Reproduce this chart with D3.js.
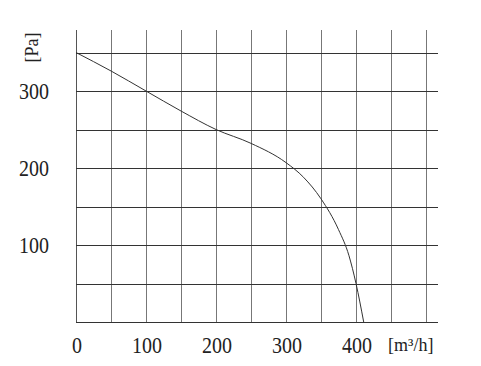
<!DOCTYPE html>
<html>
<head>
<meta charset="utf-8">
<script src="https://cdn.jsdelivr.net/npm/d3@7"></script>
<style>
  body { margin: 0; background: #fff; }
  text { font-family: "Liberation Serif", "DejaVu Serif", serif; fill: #222; }
</style>
</head>
<body>
<div id="chart"></div>
<script>
var svgWidth = 481;
var svgHeight = 366;

// data
var flow = [0, 50, 100, 150, 200, 250, 300, 325, 350, 375, 390, 400, 411];
var pressure = [350, 326, 300, 274, 250, 232, 207, 188, 160, 120, 86, 50, 0];
var xTicks = [0, 100, 200, 300, 400];
var yTicks = [100, 200, 300];
var xGrid = d3.range(0, 501, 50);
var yGrid = d3.range(0, 351, 50);

var svg = d3.select("#chart")
  .append("svg")
  .attr("width", svgWidth)
  .attr("height", svgHeight);

var x = d3.scaleLinear().domain([0, 500]).range([76, 426]);
var y = d3.scaleLinear().domain([0, 350]).range([322, 52.5]);

// vertical grid
svg.append("g").selectAll("line")
  .data(xGrid)
  .enter()
  .append("line")
  .attr("x1", d => x(d) + 0.5)
  .attr("x2", d => x(d) + 0.5)
  .attr("y1", 30)
  .attr("y2", y(0))
  .attr("stroke", d => d == 0 ? "#555" : "#777")
  .attr("stroke-width", 1);

// horizontal grid
svg.append("g").selectAll("line")
  .data(yGrid)
  .enter()
  .append("line")
  .attr("x1", x(0))
  .attr("x2", 438)
  .attr("y1", d => Math.round(y(d)) + 0.5)
  .attr("y2", d => Math.round(y(d)) + 0.5)
  .attr("stroke", "#333")
  .attr("stroke-width", 1);

// curve
var line = d3.line()
  .x((d, i) => x(d))
  .y((d, i) => y(pressure[i]))
  .curve(d3.curveMonotoneX);

svg.append("path")
  .attr("d", line(flow))
  .attr("fill", "none")
  .attr("stroke", "#333")
  .attr("stroke-width", 1);

// tick labels (font in the original is a bit taller/narrower)
svg.append("g").selectAll("text")
  .data(yTicks)
  .enter()
  .append("text")
  .attr("transform", d => `translate(49, ${y(d) + 8}) scale(1, 1.2)`)
  .attr("text-anchor", "end")
  .attr("font-size", "20px")
  .text(d => d);

svg.append("g").selectAll("text")
  .data(xTicks)
  .enter()
  .append("text")
  .attr("transform", d => `translate(${x(d) + 1}, 353) scale(1, 1.2)`)
  .attr("text-anchor", "middle")
  .attr("font-size", "20px")
  .text(d => d);

// axis units
svg.append("text")
  .attr("x", 388)
  .attr("y", 351)
  .attr("font-size", "18px")
  .text("[m³/h]");

svg.append("text")
  .attr("transform", "translate(38, 47.5) rotate(-90)")
  .attr("text-anchor", "middle")
  .attr("font-size", "18px")
  .text("[Pa]");
</script>
</body>
</html>
